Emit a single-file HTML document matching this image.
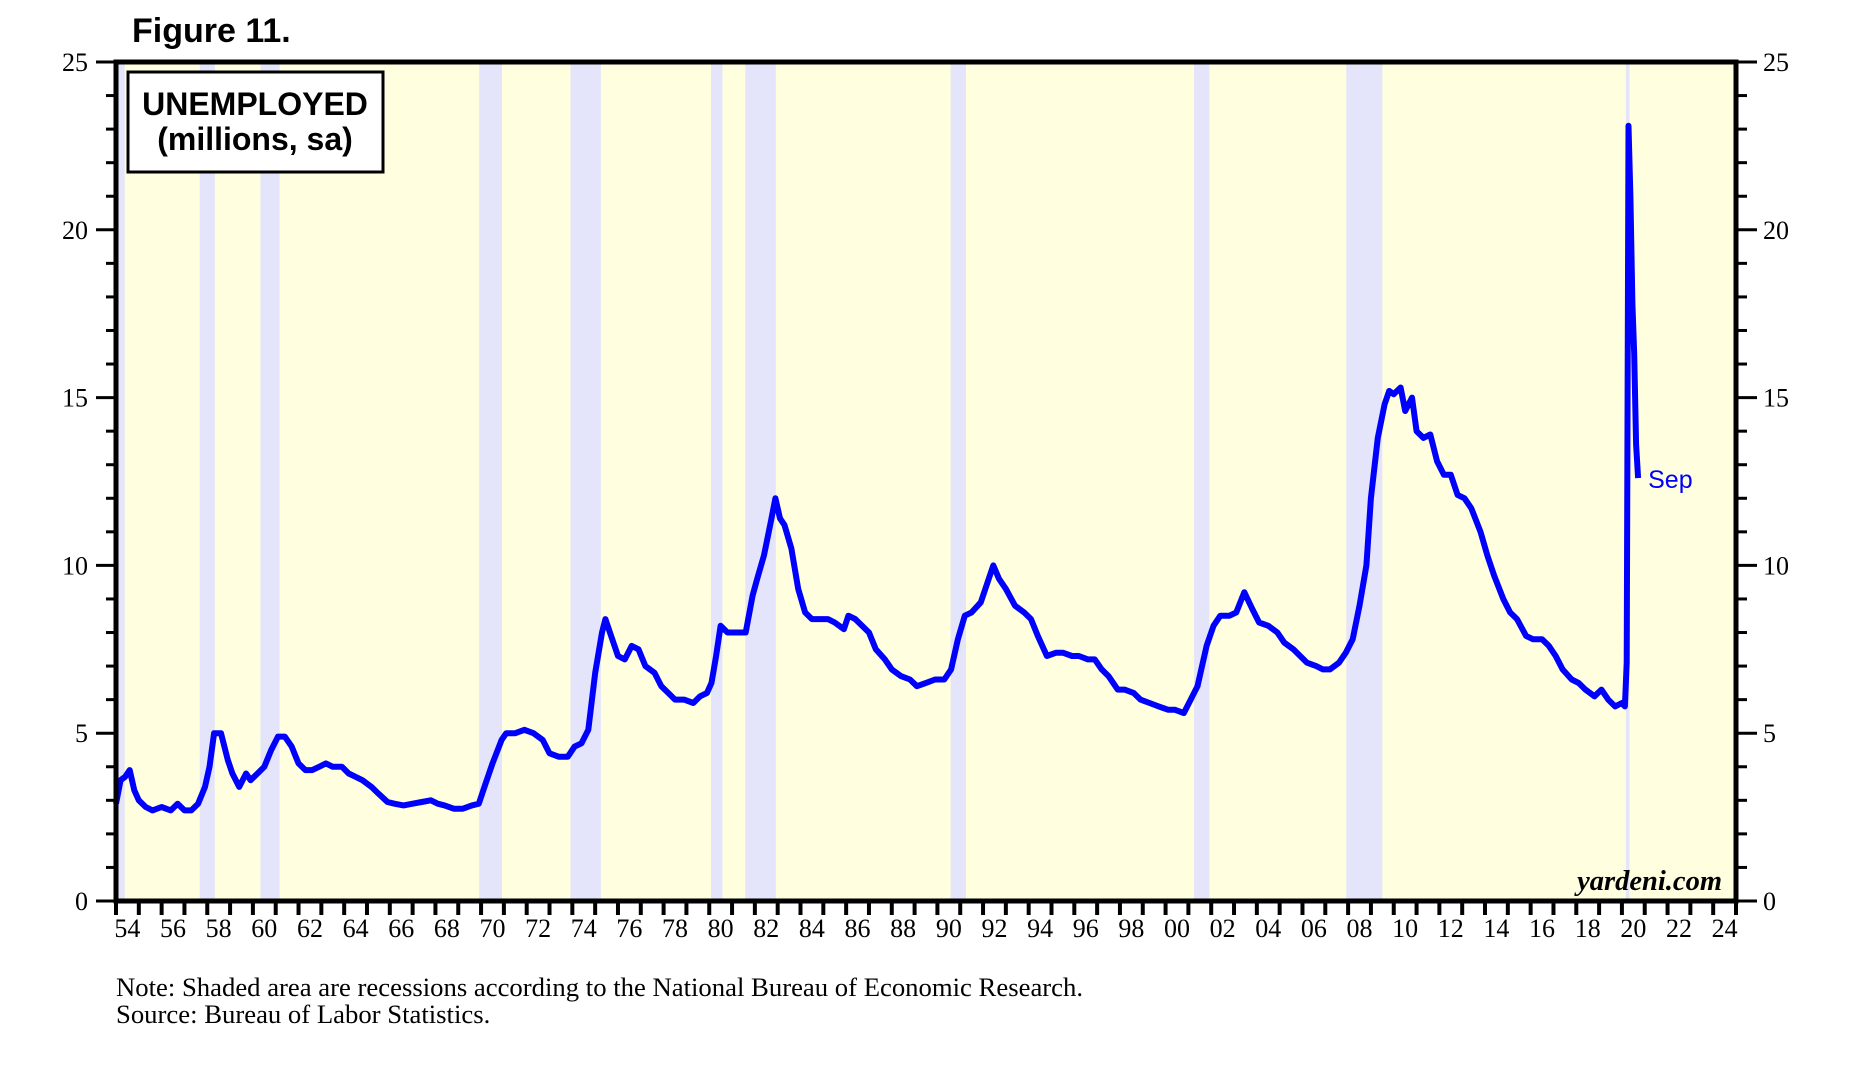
<!DOCTYPE html>
<html><head><meta charset="utf-8"><style>
html,body{margin:0;padding:0;background:#fff;}
svg{display:block;}
</style></head><body>
<svg id="chart" width="1854" height="1085" viewBox="0 0 1854 1085" xmlns="http://www.w3.org/2000/svg">
<text x="132" y="42" font-family="Liberation Sans, sans-serif" font-weight="bold" font-size="34">Figure 11.</text>
<g id="plot"></g>
<text x="116" y="996" font-family="Liberation Serif, serif" font-size="26.7">Note: Shaded area are recessions according to the National Bureau of Economic Research.</text>
<text x="116" y="1023" font-family="Liberation Serif, serif" font-size="26.7">Source: Bureau of Labor Statistics.</text>
</svg>
<script>
const years = [1954,1954.2,1954.4,1954.6,1954.8,1955,1955.3,1955.6,1956,1956.4,1956.7,1957,1957.3,1957.6,1957.9,1958.1,1958.3,1958.6,1958.9,1959.1,1959.4,1959.7,1959.9,1960.2,1960.5,1960.8,1961.1,1961.4,1961.7,1962,1962.3,1962.6,1962.9,1963.2,1963.5,1963.9,1964.2,1964.5,1964.8,1965.2,1965.5,1965.9,1966.2,1966.6,1967,1967.4,1967.8,1968.1,1968.4,1968.8,1969.2,1969.6,1969.9,1970.2,1970.5,1970.9,1971.1,1971.5,1971.9,1972.3,1972.7,1973,1973.4,1973.8,1974.1,1974.4,1974.7,1975,1975.3,1975.45,1975.7,1976,1976.3,1976.6,1976.9,1977.2,1977.6,1977.9,1978.2,1978.5,1978.9,1979.3,1979.6,1979.9,1980.1,1980.3,1980.5,1980.8,1981,1981.3,1981.6,1981.9,1982.1,1982.4,1982.7,1982.9,1983.1,1983.3,1983.6,1983.9,1984.2,1984.5,1984.8,1985.2,1985.5,1985.9,1986.1,1986.4,1986.7,1987,1987.3,1987.7,1988,1988.4,1988.8,1989.1,1989.5,1989.9,1990.3,1990.6,1990.9,1991.2,1991.5,1991.9,1992.2,1992.45,1992.7,1993,1993.4,1993.8,1994.1,1994.4,1994.8,1995.2,1995.5,1995.9,1996.2,1996.6,1996.9,1997.2,1997.5,1997.9,1998.2,1998.6,1998.9,1999.3,1999.7,2000.1,2000.4,2000.8,2001.1,2001.4,2001.8,2002.1,2002.4,2002.8,2003.1,2003.45,2003.8,2004.1,2004.5,2004.9,2005.2,2005.6,2005.9,2006.2,2006.6,2006.9,2007.2,2007.6,2007.9,2008.2,2008.5,2008.8,2009,2009.3,2009.6,2009.8,2010,2010.3,2010.5,2010.8,2011,2011.3,2011.6,2011.9,2012.2,2012.5,2012.8,2013.1,2013.4,2013.8,2014.1,2014.4,2014.8,2015.1,2015.4,2015.8,2016.1,2016.5,2016.8,2017.1,2017.4,2017.8,2018.1,2018.4,2018.8,2019.1,2019.4,2019.7,2020,2020.13,2020.21,2020.29,2020.37,2020.46,2020.54,2020.62,2020.71];
const unemployed = [2.9,3.6,3.7,3.9,3.3,3.0,2.8,2.7,2.8,2.7,2.9,2.7,2.7,2.9,3.4,4.0,5.0,5.0,4.2,3.8,3.4,3.8,3.6,3.8,4.0,4.5,4.9,4.9,4.6,4.1,3.9,3.9,4.0,4.1,4.0,4.0,3.8,3.7,3.6,3.4,3.2,2.95,2.9,2.85,2.9,2.95,3.0,2.9,2.85,2.75,2.75,2.85,2.9,3.5,4.1,4.8,5.0,5.0,5.1,5.0,4.8,4.4,4.3,4.3,4.6,4.7,5.1,6.8,8.0,8.4,7.9,7.3,7.2,7.6,7.5,7.0,6.8,6.4,6.2,6.0,6.0,5.9,6.1,6.2,6.5,7.3,8.2,8.0,8.0,8.0,8.0,9.1,9.6,10.3,11.3,12.0,11.4,11.2,10.5,9.3,8.6,8.4,8.4,8.4,8.3,8.1,8.5,8.4,8.2,8.0,7.5,7.2,6.9,6.7,6.6,6.4,6.5,6.6,6.6,6.9,7.8,8.5,8.6,8.9,9.5,10.0,9.6,9.3,8.8,8.6,8.4,7.9,7.3,7.4,7.4,7.3,7.3,7.2,7.2,6.9,6.7,6.3,6.3,6.2,6.0,5.9,5.8,5.7,5.7,5.6,6.0,6.4,7.6,8.2,8.5,8.5,8.6,9.2,8.7,8.3,8.2,8.0,7.7,7.5,7.3,7.1,7.0,6.9,6.9,7.1,7.4,7.8,8.8,10.0,12.0,13.8,14.8,15.2,15.1,15.3,14.6,15.0,14.0,13.8,13.9,13.1,12.7,12.7,12.1,12.0,11.7,11.0,10.3,9.7,9.0,8.6,8.4,7.9,7.8,7.8,7.6,7.3,6.9,6.6,6.5,6.3,6.1,6.3,6.0,5.8,5.9,5.8,7.1,23.1,21.0,17.8,16.3,13.6,12.6];
const recStart = [1953.58,1957.67,1960.33,1969.92,1973.92,1980.08,1981.58,1990.58,2001.25,2007.92,2020.17];
const recEnd   = [1954.38,1958.33,1961.17,1970.92,1975.25,1980.58,1982.92,1991.25,2001.92,2009.5,2020.33];
const yTicks = [0,5,10,15,20,25];
const xLabelYears = [1954,1956,1958,1960,1962,1964,1966,1968,1970,1972,1974,1976,1978,1980,1982,1984,1986,1988,1990,1992,1994,1996,1998,2000,2002,2004,2006,2008,2010,2012,2014,2016,2018,2020,2022,2024];

const L=116,R=1736,T=62,B=901,X0=1954,X1=2025,Y1=25;
const sx=v=>L+(v-X0)/(X1-X0)*(R-L);
const sy=v=>B-v/Y1*(B-T);
const NS="http://www.w3.org/2000/svg";
const g=document.getElementById('plot');
function mk(tag,attrs){const e=document.createElementNS(NS,tag);for(const k in attrs)e.setAttribute(k,attrs[k]);g.appendChild(e);return e;}

let bg=mk('rect',{x:L,y:T,width:R-L,height:B-T,fill:'#ffffe0'});



for(let i=0;i<recStart.length;i++){
  const a=Math.max(X0,recStart[i]),b=recEnd[i];
  const r=mk('rect',{x:sx(a),y:T,width:sx(b)-sx(a),height:B-T,fill:'#e4e4fa'});
  
  
}

for(let v=0;v<=25;v++){
  const major=v%5===0;
  const t1=mk('line',{x1:major?96:106,x2:L,y1:sy(v),y2:sy(v),stroke:'#000','stroke-width':3});
  
  
  const t2=mk('line',{x1:R,x2:major?1757:1747,y1:sy(v),y2:sy(v),stroke:'#000','stroke-width':3});
  
  
}
yTicks.forEach(v=>{
  const a=mk('text',{x:88,y:sy(v)+9,'text-anchor':'end','font-family':'Liberation Serif, serif','font-size':26});
  a.textContent=v;
  
  
  const b=mk('text',{x:1763,y:sy(v)+9,'font-family':'Liberation Serif, serif','font-size':26});
  b.textContent=v;
  
  
});
for(let y=X0;y<=X1;y++){
  const t=mk('line',{x1:sx(y),x2:sx(y),y1:B,y2:915,stroke:'#000','stroke-width':4});
  
  
}
xLabelYears.forEach(y=>{
  const t=mk('text',{x:sx(y+0.5),y:937,'text-anchor':'middle','font-family':'Liberation Serif, serif','font-size':26});
  t.textContent=String(y%100).padStart(2,'0');
  
  
});

const d=years.map((y,i)=>(i?'L':'M')+sx(y).toFixed(1)+' '+sy(unemployed[i]).toFixed(1)).join(' ');
const p=mk('path',{d:d,fill:'none',stroke:'#0000ff','stroke-width':6,'stroke-linejoin':'round'});


const last=years.length-1;
const sep=mk('text',{x:sx(years[last])+10,y:sy(unemployed[last])+10,fill:'#0000ff','font-family':'Liberation Sans, sans-serif','font-size':25});
sep.textContent='Sep';



const fr=mk('rect',{x:L,y:T,width:R-L,height:B-T,fill:'none',stroke:'#000','stroke-width':5});



const box=mk('rect',{x:128,y:72,width:255,height:100,fill:'#fff',stroke:'#000','stroke-width':3});


const l1=mk('text',{x:255,y:115,'text-anchor':'middle','font-family':'Liberation Sans, sans-serif','font-weight':'bold','font-size':32});
l1.textContent='UNEMPLOYED';


const l2=mk('text',{x:255,y:150,'text-anchor':'middle','font-family':'Liberation Sans, sans-serif','font-weight':'bold','font-size':32});
l2.textContent='(millions, sa)';



const yd=mk('text',{x:1722,y:890,'text-anchor':'end','font-family':'Liberation Serif, serif','font-weight':'bold','font-style':'italic','font-size':28.5});
yd.textContent='yardeni.com';


</script>
</body></html>
